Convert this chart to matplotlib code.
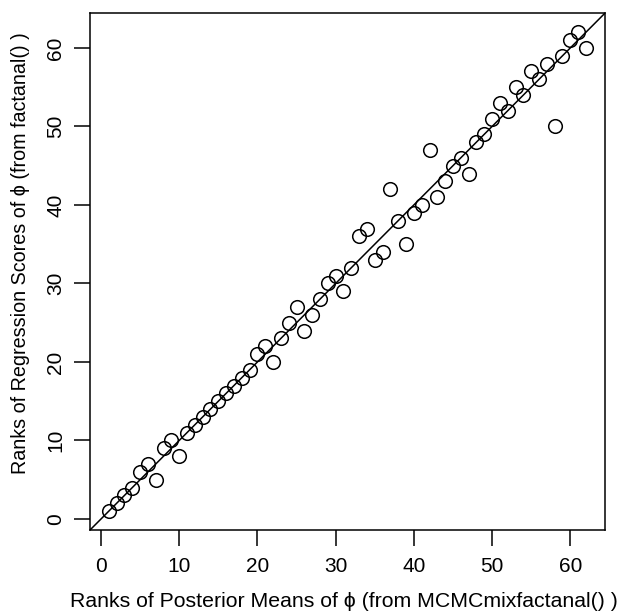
import matplotlib
matplotlib.use("Agg")
import matplotlib.pyplot as plt

plt.rcParams['font.family'] = ['Liberation Sans', 'DejaVu Sans']

# ranks from MCMCmixfactanal (x) vs ranks from factanal (y)
post_rank = list(range(1, 63))
reg_rank = [1, 2, 3, 4, 6, 7, 5, 9, 10, 8,
            11, 12, 13, 14, 15, 16, 17, 18, 19, 21,
            22, 20, 23, 25, 27, 24, 26, 28, 30, 31,
            29, 32, 36, 37, 33, 34, 42, 38, 35, 39,
            40, 47, 41, 43, 45, 46, 44, 48, 49, 51,
            53, 52, 55, 54, 57, 56, 58, 50, 59, 61,
            62, 60]
ticks = [0, 10, 20, 30, 40, 50, 60]

fig = plt.figure(figsize=(6.18, 6.11), dpi=100)
ax = fig.add_axes([0.1452, 0.1321, 0.979 - 0.1452, 0.9786 - 0.1321])

ax.plot(post_rank, reg_rank, 'o', mfc='none', mec='black', ms=9.8, mew=1.1)

lo, hi = 1 - 0.04 * 61, 62 + 0.04 * 61
ax.set_xlim(lo, hi)
ax.set_ylim(lo, hi)
ax.plot([lo, hi], [lo, hi], color='black', lw=1.1)

ax.set_xticks(ticks)
ax.set_yticks(ticks)
ax.set_yticklabels([str(t) for t in ticks], rotation=90, va='center')
ax.tick_params(direction='out', length=11.5, width=1.1, labelsize=15)
ax.tick_params(axis='x', pad=8)
ax.tick_params(axis='y', pad=6)
for s in ax.spines.values():
    s.set_linewidth(1.1)

ax.set_xlabel('Ranks of Posterior Means of \u03d5 (from MCMCmixfactanal() )',
              fontsize=15.3, labelpad=11)
ax.set_ylabel('Ranks of Regression Scores of \u03d5 (from factanal() )',
              fontsize=14.2, labelpad=12)
ax.xaxis.label.set_x(0.4925)
ax.yaxis.label.set_y(0.536)

fig.savefig('out.png', dpi=100)
